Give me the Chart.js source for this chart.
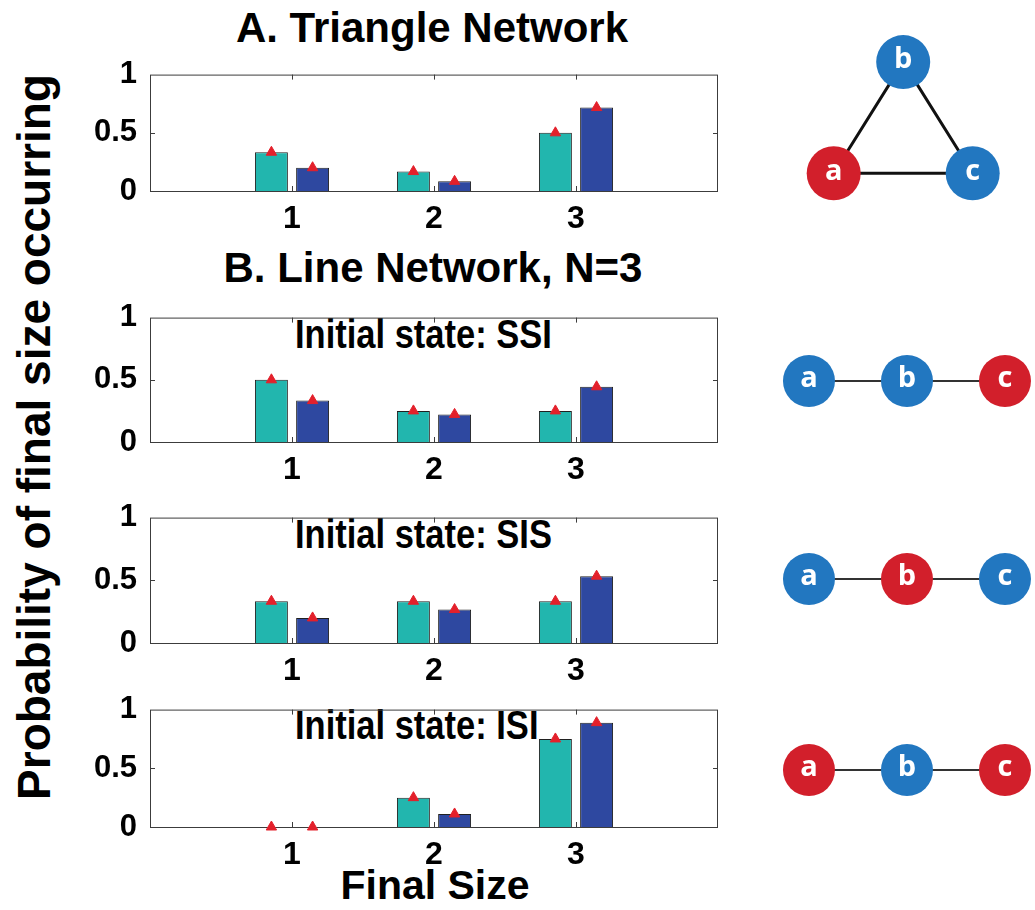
<!DOCTYPE html>
<html>
<head>
<meta charset="utf-8">
<title>Probability of final size</title>
<script src="https://cdn.jsdelivr.net/npm/chart.js@4.4.1/dist/chart.umd.min.js"></script>
<style>
  body { margin: 0; background: #fff; }
  #fig { position: relative; width: 1035px; height: 910px; overflow: hidden;
         font-family: "Liberation Sans", Arial, sans-serif; font-weight: bold; color: #000; }
  #fig canvas { position: absolute; }
  .txt { position: absolute; white-space: nowrap; line-height: 1; }
  .state { font-size: 34.5px; transform: scaleY(1.2); transform-origin: 0 50%; }
</style>
</head>
<body>
<div id="fig">
  <div class="txt" style="left:432px; top:7px; font-size:42px; transform:translateX(-50%)">A. Triangle Network</div>
  <div class="txt" style="left:433px; top:247px; font-size:42px; transform:translateX(-50%)">B. Line Network, N=3</div>
  <div class="txt" style="left:435px; top:865px; font-size:41px; transform:translateX(-50%)">Final Size</div>
  <div class="txt" style="left:34px; top:437px; font-size:46px; transform:translate(-50%,-50%) rotate(-90deg)">Probability of final size occurring</div>
  <div class="txt state" style="left:295px; top:317px">Initial state: SSI</div>
  <div class="txt state" style="left:295px; top:517px">Initial state: SIS</div>
  <div class="txt state" style="left:295px; top:708px">Initial state: ISI</div>

  <canvas id="barA"></canvas>
  <canvas id="barSSI"></canvas>
  <canvas id="barSIS"></canvas>
  <canvas id="barISI"></canvas>
  <canvas id="netA"></canvas>
  <canvas id="netSSI"></canvas>
  <canvas id="netSIS"></canvas>
  <canvas id="netISI"></canvas>
</div>

<script>
const sizes = [1, 2, 3];

// A. triangle network
const triTeal = [0.333, 0.167, 0.5];
const triBlue = [0.2, 0.083, 0.717];
const triTealExact = [0.333, 0.167, 0.5];
const triBlueExact = [0.2, 0.083, 0.717];

// B. line network, initial state SSI
const ssiTeal = [0.5, 0.25, 0.25];
const ssiBlue = [0.333, 0.222, 0.444];
const ssiTealExact = [0.5, 0.25, 0.25];
const ssiBlueExact = [0.333, 0.222, 0.444];

// initial state SIS
const sisTeal = [0.333, 0.333, 0.333];
const sisBlue = [0.2, 0.267, 0.533];
const sisTealExact = [0.333, 0.333, 0.333];
const sisBlueExact = [0.2, 0.267, 0.533];

// initial state ISI
const isiTeal = [0, 0.25, 0.75];
const isiBlue = [0, 0.111, 0.889];
const isiTealExact = [0, 0.25, 0.75];
const isiBlueExact = [0, 0.111, 0.889];

const yTicks = [0, 0.5, 1];

// networks: node names, layout and states (I = infected, S = susceptible)
const nodeNames = ["a", "b", "c"];
const triNodeX = [0, 1, 2];
const triNodeY = [0, 1.6, 0];
const triStates = ["I", "S", "S"];
const lineNodeX = [0, 1, 2];
const lineNodeY = [0, 0, 0];
const ssiStates = ["S", "S", "I"];
const sisStates = ["S", "I", "S"];
const isiStates = ["I", "S", "I"];

const TEAL = "#22b6ae";
const BLUE = "#2e48a0";
const RED = "#e3202b";
const NODE_BLUE = "#2277c0";
const NODE_RED = "#d21f2b";
const CAT_PCT = 0.58;

Chart.defaults.font.family = '"Liberation Sans", Arial, sans-serif';
Chart.defaults.color = "#000";

// box round the plot with small inward ticks, matlab style
const framePlugin = {
  id: "frame",
  beforeDatasetsDraw(chart) {
    const { ctx, chartArea: a, scales } = chart;
    ctx.save();
    ctx.strokeStyle = "#3c3c3c";
    ctx.lineWidth = 1;
    ctx.strokeRect(a.left + 0.5, a.top + 0.5, a.right - a.left - 1, a.bottom - a.top);
    ctx.beginPath();
    sizes.forEach((v) => {
      const px = Math.round(scales.x.getPixelForValue(v)) + 0.5;
      ctx.moveTo(px, a.bottom); ctx.lineTo(px, a.bottom - 5);
      ctx.moveTo(px, a.top); ctx.lineTo(px, a.top + 5);
    });
    const py = Math.round(scales.y.getPixelForValue(0.5)) + 0.5;
    ctx.moveTo(a.left, py); ctx.lineTo(a.left + 5, py);
    ctx.moveTo(a.right, py); ctx.lineTo(a.right - 5, py);
    ctx.stroke();
    ctx.restore();
  },
};

function place(canvas, left, top, w, h) {
  canvas.width = w;
  canvas.height = h;
  canvas.style.left = left + "px";
  canvas.style.top = top + "px";
  canvas.style.width = w + "px";
  canvas.style.height = h + "px";
}

function xy(vals, shift) {
  return sizes.map((s, i) => ({ x: s + shift, y: vals[i] }));
}

// box left/right of every bar panel
const BOX_L = 150, BOX_R = 718;

function barPanel(id, boxTop, boxBottom, teal, blue, tealExact, blueExact) {
  const padTop = 22, axisW = 70, axisH = 48, padL = 4, padR = 4;
  const canvas = document.getElementById(id);
  const left = BOX_L - axisW - padL;
  place(canvas, left, boxTop - padTop, BOX_R - left + padR, boxBottom - boxTop + padTop + axisH);
  const off = CAT_PCT / 4;
  new Chart(canvas, {
    type: "bar",
    data: {
      datasets: [
        { type: "scatter", data: xy(tealExact, -off), pointStyle: "triangle", pointRadius: 6,
          backgroundColor: RED, borderColor: RED, borderWidth: 1, clip: false, order: 1 },
        { type: "scatter", data: xy(blueExact, off), pointStyle: "triangle", pointRadius: 6,
          backgroundColor: RED, borderColor: RED, borderWidth: 1, clip: false, order: 1 },
        { label: "teal", data: xy(teal, 0), backgroundColor: TEAL, borderColor: "#202020",
          borderWidth: 1, categoryPercentage: CAT_PCT, barPercentage: 0.8, order: 2 },
        { label: "blue", data: xy(blue, 0), backgroundColor: BLUE, borderColor: "#202020",
          borderWidth: 1, categoryPercentage: CAT_PCT, barPercentage: 0.8, order: 2 },
      ],
    },
    options: {
      responsive: false,
      animation: false,
      devicePixelRatio: 1,
      layout: { autoPadding: false, padding: { top: padTop, left: padL, right: padR, bottom: 0 } },
      plugins: { legend: { display: false }, tooltip: { enabled: false } },
      scales: {
        x: {
          type: "linear", min: 0, max: 4, offset: false,
          grid: { display: false, offset: false }, border: { display: false },
          ticks: {
            stepSize: 1, autoSkip: false, maxRotation: 0, padding: 1,
            font: { size: 32, weight: "bold" },
            callback: (v) => (sizes.includes(v) ? String(v) : ""),
          },
          afterFit: (s) => { s.height = axisH; },
        },
        y: {
          min: 0, max: 1,
          grid: { display: false }, border: { display: false },
          afterBuildTicks: (s) => { s.ticks = yTicks.map((v) => ({ value: v })); },
          ticks: { padding: 5, font: { size: 31, weight: "bold" }, callback: (v) => String(v) },
          afterFit: (s) => { s.width = axisW; },
        },
      },
    },
    plugins: [framePlugin],
  });
}

barPanel("barA", 73, 191, triTeal, triBlue, triTealExact, triBlueExact);
barPanel("barSSI", 316, 442, ssiTeal, ssiBlue, ssiTealExact, ssiBlueExact);
barPanel("barSIS", 516, 643, sisTeal, sisBlue, sisTealExact, sisBlueExact);
barPanel("barISI", 708, 827, isiTeal, isiBlue, isiTealExact, isiBlueExact);

// white letters on the nodes
const nodeLabels = {
  id: "nodeLabels",
  afterDatasetsDraw(chart) {
    const meta = chart.getDatasetMeta(1);
    const ctx = chart.ctx;
    ctx.save();
    ctx.fillStyle = "#fff";
    ctx.font = 'bold 29px "Open Sans", sans-serif';
    ctx.textAlign = "center";
    ctx.textBaseline = "middle";
    meta.data.forEach((p, i) => ctx.fillText(nodeNames[i], p.x, p.y - 2));
    ctx.restore();
  },
};

function network(id, left, top, w, h, unit, xMin, yMin, xs, ys, states, closed, lineW, radius) {
  const canvas = document.getElementById(id);
  place(canvas, left, top, w, h);
  const nodes = xs.map((x, i) => ({ x: x, y: ys[i] }));
  const edges = closed ? nodes.concat([nodes[0]]) : nodes;
  new Chart(canvas, {
    type: "scatter",
    data: {
      datasets: [
        { type: "line", data: edges, showLine: true, borderColor: closed ? "#111" : "#333",
          borderWidth: lineW, pointRadius: 0, fill: false, clip: false, order: 2 },
        { data: nodes, pointRadius: radius, pointHoverRadius: radius, borderWidth: 0,
          backgroundColor: states.map((s) => (s === "I" ? NODE_RED : NODE_BLUE)), clip: false, order: 1 },
      ],
    },
    options: {
      responsive: false,
      animation: false,
      devicePixelRatio: 1,
      layout: { autoPadding: false, padding: 0 },
      plugins: { legend: { display: false }, tooltip: { enabled: false } },
      scales: {
        x: { type: "linear", display: false, min: xMin, max: xMin + w / unit },
        y: { type: "linear", display: false, min: yMin, max: yMin + h / unit },
      },
    },
    plugins: [nodeLabels],
  });
}

network("netA", 792, 20, 222, 195, 69.5, -0.6, -0.6, triNodeX, triNodeY, triStates, true, 3, 27);
network("netSSI", 759, 332, 276, 98, 98, -0.51, -0.5, lineNodeX, lineNodeY, ssiStates, false, 2, 26);
network("netSIS", 759, 530, 276, 98, 98, -0.51, -0.5, lineNodeX, lineNodeY, sisStates, false, 2, 26);
network("netISI", 759, 721, 276, 98, 98, -0.51, -0.5, lineNodeX, lineNodeY, isiStates, false, 2, 26);
</script>
</body>
</html>
